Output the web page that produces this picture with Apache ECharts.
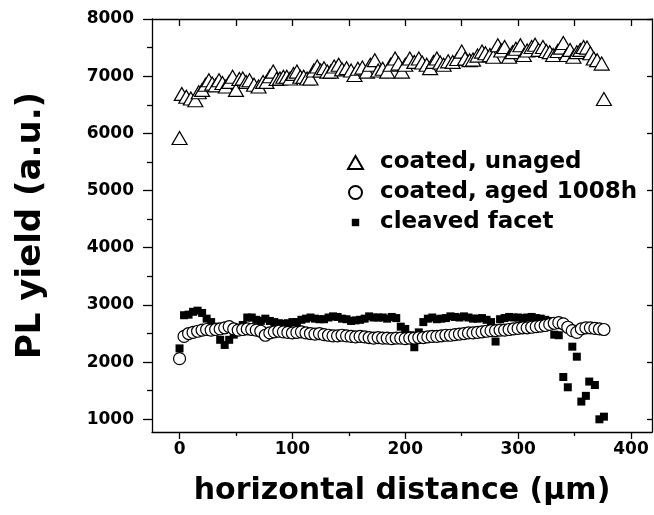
<!DOCTYPE html>
<html>
<head>
<meta charset="utf-8">
<script src="https://cdn.jsdelivr.net/npm/echarts@6/dist/echarts.min.js"></script>
<style>
  html, body { margin: 0; padding: 0; background: #fff; }
  #chart { width: 654px; height: 515px; }
</style>
</head>
<body>
<div id="chart"></div>
<script>
// PL yield scans along the facet (horizontal distance in micrometres)
const unagedX = [0, 2, 6, 10, 14, 17, 20, 23, 26, 29, 32, 35, 38, 41, 44, 47, 50, 53, 56, 59, 62, 66, 70, 74, 77, 80, 83, 86, 89, 92, 95, 98, 101, 104, 107, 110, 113, 116, 119, 122, 125, 128, 131, 134, 137, 141, 144, 148, 152, 155, 158, 162, 166, 169, 173, 176, 180, 184, 187, 191, 194, 197, 200, 204, 208, 212, 215, 219, 222, 225, 228, 231, 234, 238, 242, 246, 250, 253, 257, 260, 264, 268, 271, 275, 278, 282, 285, 288, 292, 295, 298, 302, 305, 308, 312, 315, 318, 322, 325, 328, 331, 335, 338, 340, 343, 346, 349, 352, 355, 358, 361, 364, 367, 370, 374, 376];
const unagedY = [5920, 6690, 6640, 6610, 6580, 6720, 6760, 6850, 6930, 6870, 6840, 6930, 6880, 6820, 6900, 6990, 6760, 6950, 6960, 6900, 6930, 6850, 6820, 6900, 6900, 7000, 7080, 6950, 6960, 6990, 6990, 6960, 7040, 7080, 6990, 6990, 6960, 6960, 7100, 7170, 7100, 7140, 7080, 7080, 7170, 7200, 7120, 7140, 7100, 7020, 7130, 7150, 7080, 7200, 7280, 7100, 7130, 7080, 7200, 7310, 7220, 7080, 7200, 7310, 7250, 7310, 7240, 7200, 7140, 7250, 7310, 7240, 7200, 7260, 7250, 7300, 7430, 7310, 7280, 7290, 7360, 7430, 7400, 7370, 7340, 7540, 7450, 7510, 7340, 7420, 7480, 7540, 7370, 7450, 7510, 7550, 7460, 7510, 7440, 7420, 7370, 7440, 7500, 7580, 7370, 7460, 7340, 7420, 7460, 7510, 7500, 7400, 7310, 7280, 7220, 6600];

const agedX = [0, 4, 8, 12, 16, 20, 24, 28, 32, 36, 40, 44, 48, 52, 56, 60, 64, 68, 72, 76, 80, 84, 88, 92, 96, 100, 104, 108, 112, 116, 120, 124, 128, 132, 136, 140, 144, 148, 152, 156, 160, 164, 168, 172, 176, 180, 184, 188, 192, 196, 200, 204, 208, 212, 216, 220, 224, 228, 232, 236, 240, 244, 248, 252, 256, 260, 264, 268, 272, 276, 280, 284, 288, 292, 296, 300, 304, 308, 312, 316, 320, 324, 328, 332, 336, 340, 344, 348, 352, 356, 360, 364, 368, 372, 376];
const agedY = [2060, 2450, 2500, 2520, 2540, 2560, 2570, 2560, 2570, 2580, 2600, 2620, 2580, 2560, 2570, 2580, 2570, 2560, 2540, 2470, 2510, 2530, 2540, 2530, 2520, 2510, 2520, 2530, 2510, 2500, 2490, 2500, 2480, 2470, 2460, 2460, 2470, 2460, 2450, 2440, 2450, 2440, 2430, 2420, 2430, 2420, 2420, 2410, 2420, 2420, 2410, 2420, 2420, 2430, 2430, 2440, 2450, 2450, 2460, 2470, 2470, 2480, 2490, 2500, 2510, 2510, 2520, 2530, 2540, 2550, 2550, 2560, 2560, 2570, 2580, 2590, 2600, 2600, 2610, 2620, 2630, 2640, 2660, 2680, 2690, 2670, 2610, 2550, 2520, 2580, 2600, 2600, 2590, 2580, 2570];

const cleavedX = [0, 4, 8, 12, 16, 20, 24, 28, 32, 36, 40, 44, 48, 52, 56, 60, 64, 68, 72, 76, 80, 84, 88, 92, 96, 100, 104, 108, 112, 116, 120, 124, 128, 132, 136, 140, 144, 148, 152, 156, 160, 164, 168, 172, 176, 180, 184, 188, 192, 196, 200, 204, 208, 212, 216, 220, 224, 228, 232, 236, 240, 244, 248, 252, 256, 260, 264, 268, 272, 276, 280, 284, 288, 292, 296, 300, 304, 308, 312, 316, 320, 324, 328, 332, 336, 340, 344, 348, 352, 356, 360, 363, 368, 372, 376];
const cleavedY = [2240, 2820, 2830, 2880, 2900, 2860, 2760, 2700, 2620, 2390, 2300, 2390, 2480, 2590, 2650, 2780, 2780, 2740, 2720, 2760, 2720, 2700, 2680, 2670, 2680, 2700, 2700, 2740, 2760, 2780, 2760, 2750, 2750, 2780, 2800, 2790, 2760, 2750, 2720, 2730, 2740, 2760, 2800, 2780, 2780, 2780, 2760, 2790, 2770, 2620, 2580, 2470, 2260, 2520, 2700, 2760, 2780, 2750, 2760, 2770, 2800, 2790, 2780, 2800, 2780, 2760, 2760, 2770, 2740, 2700, 2360, 2750, 2770, 2790, 2780, 2780, 2770, 2780, 2790, 2770, 2760, 2740, 2720, 2480, 2470, 1740, 1560, 2270, 2095, 1310, 1410, 1660, 1600, 1000, 1046];

const seriesNames = ['coated, unaged', 'coated, aged 1008h', 'cleaved facet'];

const xMajor = [0, 100, 200, 300, 400];
const xMinor = [50, 150, 250, 350];
const xTop = [0, 50, 100, 150, 200, 250, 300, 350, 400];
const yMajor = [1000, 2000, 3000, 4000, 5000, 6000, 7000, 8000];
const yMinor = [1500, 2500, 3500, 4500, 5500, 6500, 7500];

const X_MIN = -24.4, X_MAX = 418.6, Y_MIN = 778, Y_MAX = 8000;
const FONT = 'DejaVu Sans';

const pairs = (xs, ys) => xs.map((x, i) => [x, ys[i]]);
const plain = v => String(v);

const baseX = { type: 'value', min: X_MIN, max: X_MAX, splitLine: { show: false } };
const baseY = { type: 'value', min: Y_MIN, max: Y_MAX, splitLine: { show: false } };
const axisLine = { show: true, onZero: false, lineStyle: { color: '#000', width: 1.3 } };
const hiddenLine = { show: false, onZero: false };

const chart = echarts.init(document.getElementById('chart'), null, { renderer: 'canvas' });
chart.setOption({
  animation: false,
  backgroundColor: '#fff',
  grid: { left: 152, right: 2, top: 19, bottom: 83 },
  xAxis: [
    Object.assign({}, baseX, {
      position: 'bottom',
      axisLine: axisLine,
      axisTick: { show: true, inside: false, length: 7, customValues: xMajor, lineStyle: { color: '#000', width: 1.3 } },
      axisLabel: { show: true, customValues: xMajor, formatter: plain, margin: 9, color: '#000', fontFamily: FONT, fontWeight: 'bold', fontSize: 17 },
      name: 'horizontal distance (\u03bcm)',
      nameLocation: 'middle',
      nameGap: 44,
      nameTextStyle: { color: '#000', fontFamily: FONT, fontWeight: 'bold', fontSize: 30 }
    }),
    Object.assign({}, baseX, {
      position: 'bottom',
      axisLine: hiddenLine,
      axisTick: { show: true, inside: false, length: 4, customValues: xMinor, lineStyle: { color: '#000', width: 1.3 } },
      axisLabel: { show: false }
    }),
    Object.assign({}, baseX, {
      position: 'top',
      axisLine: axisLine,
      axisTick: { show: true, inside: true, length: 7, customValues: xTop, lineStyle: { color: '#000', width: 1.3 } },
      axisLabel: { show: false }
    })
  ],
  yAxis: [
    Object.assign({}, baseY, {
      position: 'left',
      axisLine: axisLine,
      axisTick: { show: true, inside: false, length: 9, customValues: yMajor, lineStyle: { color: '#000', width: 1.3 } },
      axisLabel: { show: true, customValues: yMajor, formatter: plain, margin: 18, color: '#000', fontFamily: FONT, fontWeight: 'bold', fontSize: 17 },
      name: 'PL yield (a.u.)',
      nameLocation: 'middle',
      nameRotate: 90,
      nameGap: 104,
      nameTextStyle: { color: '#000', fontFamily: FONT, fontWeight: 'bold', fontSize: 34 }
    }),
    Object.assign({}, baseY, {
      position: 'left',
      axisLine: hiddenLine,
      axisTick: { show: true, inside: false, length: 5, customValues: yMinor, lineStyle: { color: '#000', width: 1.3 } },
      axisLabel: { show: false }
    }),
    Object.assign({}, baseY, {
      position: 'right',
      axisLine: axisLine,
      axisTick: { show: true, inside: true, length: 5, customValues: yMajor, lineStyle: { color: '#000', width: 1.3 } },
      axisLabel: { show: false }
    })
  ],
  legend: {
    orient: 'vertical',
    left: 342,
    top: 146,
    itemWidth: 15,
    itemHeight: 13,
    itemGap: 7,
    selectedMode: false,
    textStyle: { color: '#000', fontFamily: FONT, fontWeight: 'bold', fontSize: 23, lineHeight: 23, padding: [0, 0, 0, 12] },
    data: [
      { name: seriesNames[0] },
      { name: seriesNames[1], icon: 'path://M0,6.5a6.5,6.5 0 1,0 13,0a6.5,6.5 0 1,0 -13,0z' },
      { name: seriesNames[2], icon: 'path://M0,0L0,0M3,3h8v8h-8zM14,14L14,14' }
    ]
  },
  series: [
    {
      name: seriesNames[0],
      type: 'scatter',
      data: pairs(unagedX, unagedY),
      symbol: 'triangle',
      symbolSize: [15, 13],
      itemStyle: { color: '#fff', borderColor: '#000', borderWidth: 1.2, opacity: 1 },
      z: 3
    },
    {
      name: seriesNames[2],
      type: 'scatter',
      data: pairs(cleavedX, cleavedY),
      symbol: 'rect',
      symbolSize: 8,
      itemStyle: { color: '#000', opacity: 1 },
      z: 3
    },
    {
      name: seriesNames[1],
      type: 'scatter',
      data: pairs(agedX, agedY),
      symbol: 'circle',
      symbolSize: 12,
      itemStyle: { color: '#fff', borderColor: '#000', borderWidth: 1.2, opacity: 1 },
      z: 4
    }
  ]
});
</script>
</body>
</html>
